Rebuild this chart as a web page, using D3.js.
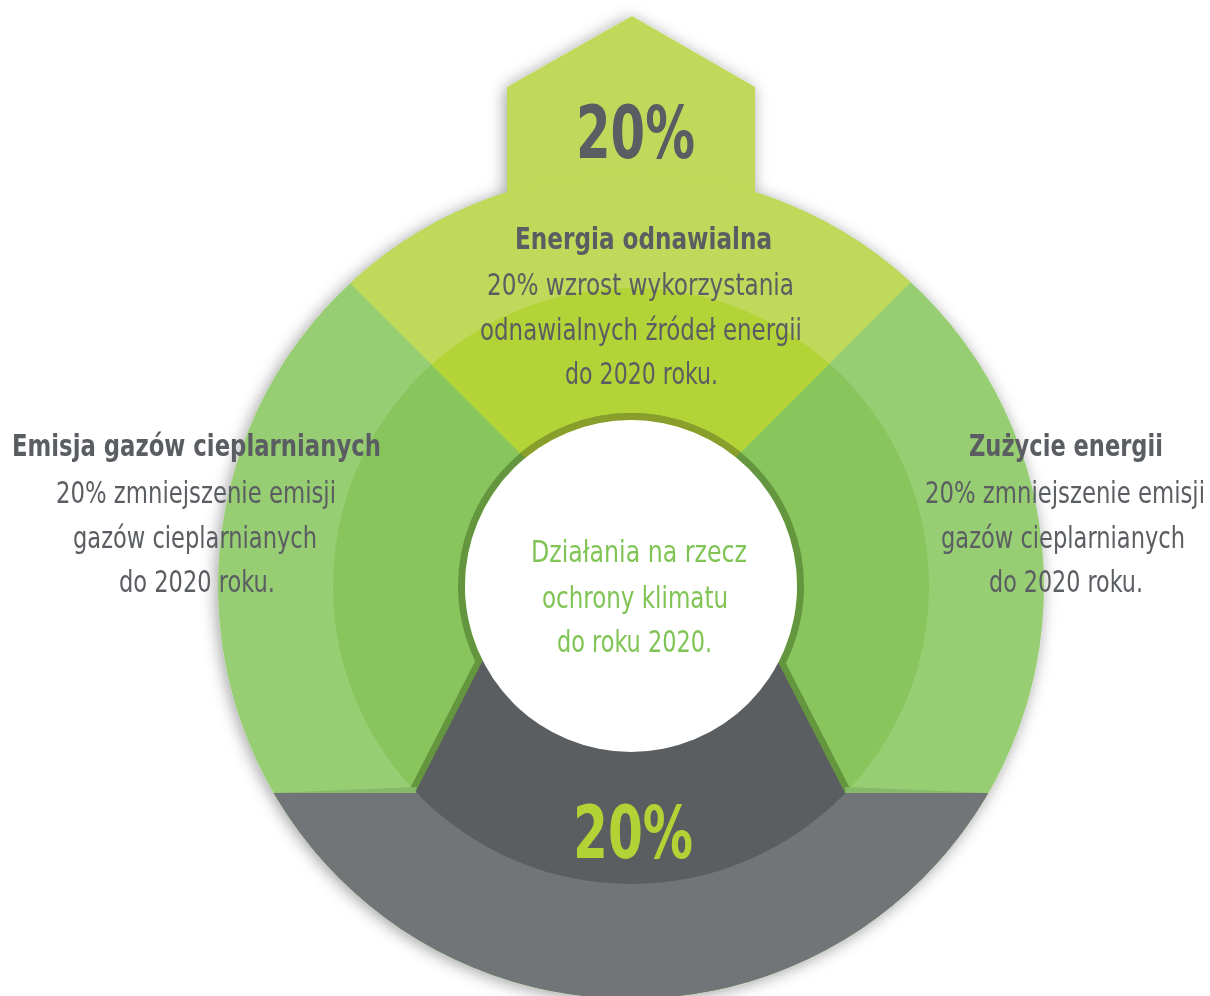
<!DOCTYPE html>
<html>
<head>
<meta charset="utf-8">
<script src="https://cdn.jsdelivr.net/npm/d3@7"></script>
<style>
html,body{margin:0;padding:0;background:#ffffff;}
svg{display:block;}
</style>
</head>
<body>
<svg id="chart" width="1210" height="996"></svg>
<script>
// ---------------- DATA ----------------
const categories = ["Energia odnawialna", "Zużycie energii", "Emisja gazów cieplarnianych"];
const descriptions = [
  ["20% wzrost wykorzystania", "odnawialnych źródeł energii", "do 2020 roku."],
  ["20% zmniejszenie emisji", "gazów cieplarnianych", "do 2020 roku."],
  ["20% zmniejszenie emisji", "gazów cieplarnianych", "do 2020 roku."]
];
const topValue = 20;      // % shown in the top "house"
const bottomValue = 20;   // % shown in the grey bottom segment
const centerLines = ["Działania na rzecz", "ochrony klimatu", "do roku 2020."];

// ---------------- LAYOUT ----------------
const W = 1210, H = 996;
const cx = 631, cy = 586;
const rOut = 413, rMid = 298, rRingOut = 173, rWhite = 166;
const topApex = [630, 563];          // top wedge apex (±45°)
const botApex = [630, 373];          // bottom wedge apex (edges extended)
const botSlope = 0.512;              // dx/dy of bottom wedge edges
const cutY = 793;                    // horizontal cut of the grey outer band
const house = [[507, 260], [507, 87], [632, 16], [755, 87], [755, 260]];

const col = {
  topLight: "#c0d95a", topDark: "#b3d337",
  sideLight: "#97cd73", sideDark: "#88c55c",
  ringTop: "#8a9e2c", ringSide: "#64963f",
  grayDark: "#5b5e61", grayLight: "#727578",
  text: "#5a5d61", centerText: "#7fc455", bottomLabel: "#b3d235",
  shade: "#86b968"
};

// text layout: [left x, baseline y, width]
const headLayout = [[515, 249, 257], [969, 456, 194], [12, 456, 369]];
const descLayout = [
  [[487, 295, 307], [480, 340, 322], [565, 384, 153]],
  [[925, 503, 280], [941, 548, 244], [989, 592, 154]],
  [[56, 503, 280], [73, 548, 244], [119, 592, 156]]
];
const centerLayout = [[531, 562, 216], [542, 608, 186], [557, 652, 155]];
const topValueLayout = [576, 158, 119];
const bottomValueLayout = [573, 858, 120];

const FONT = "'Liberation Sans Narrow','DejaVu Sans Condensed','Roboto Condensed','Open Sans',sans-serif";

// ---------------- DRAW ----------------
const svg = d3.select("#chart");
const defs = svg.append("defs");

const filt = defs.append("filter").attr("id", "shadow")
  .attr("x", "-20%").attr("y", "-20%").attr("width", "140%").attr("height", "140%");
filt.append("feDropShadow").attr("dx", -2).attr("dy", 2)
  .attr("stdDeviation", 8).attr("flood-color", "#000").attr("flood-opacity", 0.38);

const big = 1400;
const topWedge = [topApex, [topApex[0] - big, topApex[1] - big], [topApex[0] + big, topApex[1] - big]];
// bottom wedge, truncated at the centre height so it never shows above the white disc
const wedgeX = y => botSlope * (y - botApex[1]);
const botWedge = [
  [botApex[0] - wedgeX(cy), cy],
  [botApex[0] - wedgeX(cy + big), cy + big],
  [botApex[0] + wedgeX(cy + big), cy + big],
  [botApex[0] + wedgeX(cy), cy]
];
const line = d3.line();

defs.append("clipPath").attr("id", "clipTop").append("path").attr("d", line(topWedge) + "Z");
defs.append("clipPath").attr("id", "clipOut").append("circle").attr("cx", cx).attr("cy", cy).attr("r", rOut);
defs.append("clipPath").attr("id", "clipMid").append("circle").attr("cx", cx).attr("cy", cy).attr("r", rMid);

const disc = d3.arc().innerRadius(0).startAngle(0).endAngle(2 * Math.PI);
const g = svg.append("g");

// base with shadow
const base = g.append("g").attr("filter", "url(#shadow)");
base.append("path").attr("transform", `translate(${cx},${cy})`)
  .attr("d", disc.outerRadius(rOut)()).attr("fill", col.sideLight);
base.append("path").attr("d", line(house) + "Z").attr("fill", col.topLight);

// side inner band
g.append("path").attr("transform", `translate(${cx},${cy})`)
  .attr("d", disc.outerRadius(rMid)()).attr("fill", col.sideDark);

// top segment
const tg = g.append("g").attr("clip-path", "url(#clipTop)");
tg.append("path").attr("transform", `translate(${cx},${cy})`)
  .attr("d", disc.outerRadius(rOut)()).attr("fill", col.topLight);
tg.append("path").attr("transform", `translate(${cx},${cy})`)
  .attr("d", disc.outerRadius(rMid)()).attr("fill", col.topDark);

// darker strips along lower slanted edges of the green segments
const strips = g.append("g").attr("clip-path", "url(#clipMid)");
strips.append("path").attr("d", line([botWedge[1], botWedge[0]]))
  .attr("fill", "none").attr("stroke", col.ringSide).attr("stroke-width", 13);
strips.append("path").attr("d", line([botWedge[2], botWedge[3]]))
  .attr("fill", "none").attr("stroke", col.ringSide).attr("stroke-width", 13);

// light grey outer band (below cut)
g.append("g").attr("clip-path", "url(#clipOut)")
  .append("rect").attr("x", 0).attr("y", cutY).attr("width", W).attr("height", H - cutY)
  .attr("fill", col.grayLight);

// small shading wedges above the cut on light green bands
const dyCut = cutY - cy;
const xOutL = cx - Math.sqrt(rOut * rOut - dyCut * dyCut);
const xOutR = cx + Math.sqrt(rOut * rOut - dyCut * dyCut);
const xMidL = cx - Math.sqrt(rMid * rMid - dyCut * dyCut);
const xMidR = cx + Math.sqrt(rMid * rMid - dyCut * dyCut);
g.append("path").attr("d", line([[xOutL, cutY], [xMidL, cutY], [xMidL, cutY - 6]]) + "Z").attr("fill", col.shade);
g.append("path").attr("d", line([[xOutR, cutY], [xMidR, cutY], [xMidR, cutY - 6]]) + "Z").attr("fill", col.shade);

// ring around the centre
const rRing = (rRingOut + rWhite) / 2;
g.append("circle").attr("cx", cx).attr("cy", cy).attr("r", rRing)
  .attr("fill", "none").attr("stroke", col.ringSide).attr("stroke-width", rRingOut - rWhite);
g.append("g").attr("clip-path", "url(#clipTop)")
  .append("circle").attr("cx", cx).attr("cy", cy).attr("r", rRing)
  .attr("fill", "none").attr("stroke", col.ringTop).attr("stroke-width", rRingOut - rWhite);

// dark grey inner wedge
g.append("g").attr("clip-path", "url(#clipMid)")
  .append("path").attr("d", line(botWedge) + "Z").attr("fill", col.grayDark);

// white centre
g.append("circle").attr("cx", cx).attr("cy", cy).attr("r", rWhite).attr("fill", "#ffffff");

// ---------------- TEXT ----------------
function addText(str, lay, opts) {
  return svg.append("text")
    .attr("x", lay[0]).attr("y", lay[1])
    .attr("textLength", lay[2]).attr("lengthAdjust", "spacingAndGlyphs")
    .attr("font-family", FONT)
    .attr("font-stretch", "condensed")
    .attr("font-size", opts.size)
    .attr("font-weight", opts.weight || "normal")
    .attr("fill", opts.fill)
    .text(str);
}

addText(`${topValue}%`, topValueLayout, {size: 73, weight: "bold", fill: col.text});
addText(`${bottomValue}%`, bottomValueLayout, {size: 73, weight: "bold", fill: col.bottomLabel});

categories.forEach((c, i) => {
  addText(c, headLayout[i], {size: 30, weight: "bold", fill: col.text});
  descriptions[i].forEach((d, j) => addText(d, descLayout[i][j], {size: 30, fill: col.text}));
});
centerLines.forEach((d, j) => addText(d, centerLayout[j], {size: 30, fill: col.centerText}));
</script>
</body>
</html>
